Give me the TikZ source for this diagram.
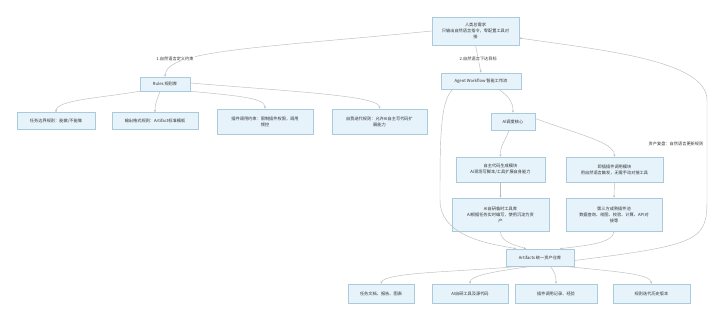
\documentclass[tikz,border=0pt]{standalone}
\usepackage{fontspec}
\setmainfont{Noto Sans CJK SC}
\usetikzlibrary{arrows.meta}
\definecolor{boxfill}{HTML}{E6F3FA}
\definecolor{boxline}{HTML}{A9CCDD}
\definecolor{edgecol}{HTML}{BDBDBD}
\definecolor{txtcol}{HTML}{333333}
\tikzset{
  box/.style={draw=boxline, fill=boxfill, line width=0.5pt, align=center, inner sep=1pt,
    font=\fontsize{4.2}{6}\selectfont, text=txtcol},
  edge/.style={draw=edgecol, line width=0.45pt, -{Stealth[length=2.4pt,width=2pt]}},
  elabel/.style={fill=white, inner sep=1pt, font=\fontsize{4.2}{6}\selectfont, text=txtcol},
}
\begin{document}
\begin{tikzpicture}[x=1pt,y=-1pt]
\useasboundingbox[fill=white] (0,0) rectangle (720,321);
% nodes
\node[box, minimum width=87pt, minimum height=28pt] (top) at (475.5,31) {人类总需求\\只输出自然语言指令，零配置工具对\\接};
\node[box, minimum width=50pt, minimum height=14pt] (rules) at (165,84) {Rules 规则库};
\node[box, minimum width=80pt, minimum height=16pt] (agent) at (481,81) {Agent Workflow 智能工作流};
\node[box, minimum width=78pt, minimum height=17pt] (r1) at (56,121) {任务边界规则：能做/不能做};
\node[box, minimum width=86pt, minimum height=17pt] (r2) at (155,121) {输出格式规则：Artifact标准模板};
\node[box, minimum width=96pt, minimum height=25pt] (r3) at (265,121.5) {插件调用约束：限制插件权限，调用\\频控};
\node[box, minimum width=95pt, minimum height=25pt] (r4) at (379.5,121.5) {自我迭代规则：允许AI自主写代码扩\\展能力};
\node[box, minimum width=44pt, minimum height=17pt] (core) at (513,121.5) {AI调度核心};
\node[box, minimum width=89pt, minimum height=25pt] (m1) at (500.5,169.5) {自主代码生成模块\\AI现场写脚本/工具扩展自身能力};
\node[box, minimum width=97pt, minimum height=25pt] (m2) at (614.5,169.5) {即插插件调用模块\\用自然语言触发，无需手动对接工具};
\node[box, minimum width=97pt, minimum height=33pt] (t1) at (500.5,214.5) {AI自研临时工具库\\AI根据任务实时编写，使用沉淀为资\\产};
\node[box, minimum width=96pt, minimum height=33pt] (t2) at (614,214.5) {第三方成熟插件池\\数据查询、绘图、校验、计算、API对\\接等};
\node[box, minimum width=68pt, minimum height=17pt] (art) at (540,257.5) {Artifacts 统一资产仓库};
\node[box, minimum width=66pt, minimum height=19pt] (b1) at (381,293.5) {任务文档、报告、图表};
\node[box, minimum width=76pt, minimum height=19pt] (b2) at (470,293.5) {AI自研工具及源代码};
\node[box, minimum width=82pt, minimum height=19pt] (b3) at (556,293.5) {插件调用记录、经验};
\node[box, minimum width=77pt, minimum height=19pt] (b4) at (651.5,293.5) {规则迭代历史版本};
% edges
\draw[edge] (top.west) .. controls (260,48) and (166,50) .. (rules.north);
\node[elabel] (l1) at (175,58.5) {1.自然语言定义约束};
\draw[edge] (top.south) -- (agent.north) node[elabel, pos=0.5] (l2) {2.自然语言下达目标};
\draw[edge] (rules.south west) .. controls (100,98) and (56,100) .. (r1.north);
\draw[edge] ([xshift=-5pt]rules.south) .. controls (158,98) and (155,102) .. (r2.north);
\draw[edge] (rules.south east) .. controls (240,96) and (265,98) .. (r3.north);
\draw[edge] ([yshift=1pt]rules.east) .. controls (300,92) and (380,96) .. (r4.north);
\draw[edge] ([xshift=18pt]agent.south) .. controls (510,98) and (513,102) .. (core.north);
\draw[edge] ([xshift=-28pt]agent.south) .. controls (440,100) and (440,140) .. (440,200) .. controls (440,240) and (500,245) .. ([xshift=-24pt]art.north);
\draw[edge] ([xshift=-4pt]core.south) .. controls (506,140) and (500,145) .. (m1.north);
\draw[edge] ([yshift=3pt]core.east) .. controls (580,135) and (614,142) .. (m2.north);
\draw[edge] (m1.south) -- (t1.north);
\draw[edge] (m2.south) -- (t2.north);
\draw[edge] (t1.south) .. controls (500,242) and (515,245) .. ([xshift=-14pt]art.north);
\draw[edge] (t2.south) .. controls (614,244) and (580,246) .. ([xshift=20pt]art.north);
\draw[edge] ([yshift=-3pt]art.east) .. controls (700,245) and (707,240) .. (707,200) -- (707,100) .. controls (707,60) and (600,50) .. ([yshift=-7pt]top.east);
\node[elabel] (l3) at (676,144) {资产复盘：自然语言更新规则};
\draw[edge] ([xshift=-20pt]art.south) .. controls (460,272) and (384,272) .. (b1.north);
\draw[edge] ([xshift=-8pt]art.south) .. controls (490,272) and (470,276) .. (b2.north);
\draw[edge] ([xshift=10pt]art.south) .. controls (555,272) and (556,276) .. (b3.north);
\draw[edge] ([xshift=24pt]art.south) .. controls (620,272) and (650,274) .. (b4.north);
\end{tikzpicture}
\end{document}
